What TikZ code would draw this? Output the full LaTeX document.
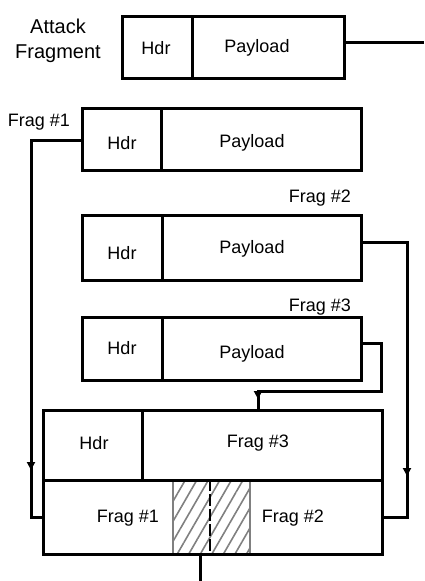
\documentclass[tikz,border=0pt]{standalone}
\usepackage{fontspec}
\setmainfont{Liberation Sans}
\usetikzlibrary{arrows.meta,patterns.meta,decorations.markings}
\begin{document}
\begin{tikzpicture}[x=1pt,y=-1pt,
  cell/.style={draw,line width=3pt,inner sep=0pt,anchor=north west},
  txt/.style={font=\fontsize{18}{20}\selectfont,inner sep=0pt},
  conn/.style={line width=3pt},
  midarrow/.style={postaction={decorate},decoration={markings,mark=at position #1 with {\arrow{Triangle[width=8pt,length=8pt]}}}}]
\useasboundingbox (0,0) rectangle (424,581);
% hatched overlap
\fill[pattern={Lines[angle=60,distance=10pt,line width=1.6pt]},pattern color=gray] (173,479) rectangle (250,553);
\draw[gray,line width=2.2pt] (173,479) -- (173,553) (250,479) -- (250,553);
% attack fragment
\node[cell,minimum width=70pt,minimum height=62pt] (ah) at (121,15) {};
\node[cell,minimum width=152pt,minimum height=62pt] (ap) at (191,15) {};
% frag 1
\node[cell,minimum width=79pt,minimum height=62pt] (h1) at (81,107) {};
\node[cell,minimum width=200pt,minimum height=62pt] (p1) at (160,107) {};
% frag 2
\node[cell,minimum width=80pt,minimum height=65pt] (h2) at (81,214) {};
\node[cell,minimum width=199pt,minimum height=65pt] (p2) at (161,214) {};
% frag 3
\node[cell,minimum width=80pt,minimum height=63pt] (h3) at (81,316) {};
\node[cell,minimum width=199pt,minimum height=63pt] (p3) at (161,316) {};
% reassembled
\node[cell,minimum width=99pt,minimum height=70pt] (bh) at (42,409) {};
\node[cell,minimum width=240pt,minimum height=70pt] (bf3) at (141,409) {};
\node[cell,minimum width=339pt,minimum height=74pt] (brow) at (42,479) {};
\coordinate (dtop) at (210,479);
\coordinate (dbot) at (210,553);
\draw[line width=2.8pt,dash pattern=on 12pt off 3pt] (dtop) -- (dbot);
% texts
\node[txt,font=\fontsize{20}{25}\selectfont,align=center] (atk) at (58,41) {Attack\\Fragment};
\node[txt] (tah) at (156,48) {Hdr};
\node[txt] (tap) at (257,48) {Payload};
\node[txt] (th1) at (122,143) {Hdr};
\node[txt] (tp1) at (252,143) {Payload};
\node[txt] (th2) at (122,253) {Hdr};
\node[txt] (tp2) at (252,249) {Payload};
\node[txt] (th3) at (122,348) {Hdr};
\node[txt] (tp3) at (252,354) {Payload};
\node[txt] (tbh) at (94,443) {Hdr};
\node[txt] (tbf3) at (258,443) {Frag \#3};
\node[txt] (tbf1) at (128,518) {Frag \#1};
\node[txt] (tbf2) at (293,518) {Frag \#2};
\node[txt] (lf1) at (39,122) {Frag \#1};
\node[txt] (lf2) at (320,198) {Frag \#2};
\node[txt] (lf3) at (320,307) {Frag \#3};
% connectors
\coordinate (o1) at (424,42);
\draw[conn] (ap.east |- o1) -- (o1);
\coordinate (l1) at (31,140);
\draw[conn,midarrow=380pt] (h1.west |- l1) -- (l1) |- (brow.west);
\coordinate (r2) at (407,242);
\draw[conn,midarrow=278pt] (p2.east |- r2) -- (r2) |- (brow.east);
\coordinate (r3) at (381,343);
\coordinate (m3) at (258,391);
\draw[conn,midarrow=197pt] (p3.east |- r3) -- (r3) |- (m3) -- (m3 |- bf3.north);
\coordinate (b0) at (200,581);
\draw[conn] (b0 |- brow.south) -- (b0);
\end{tikzpicture}
\end{document}
